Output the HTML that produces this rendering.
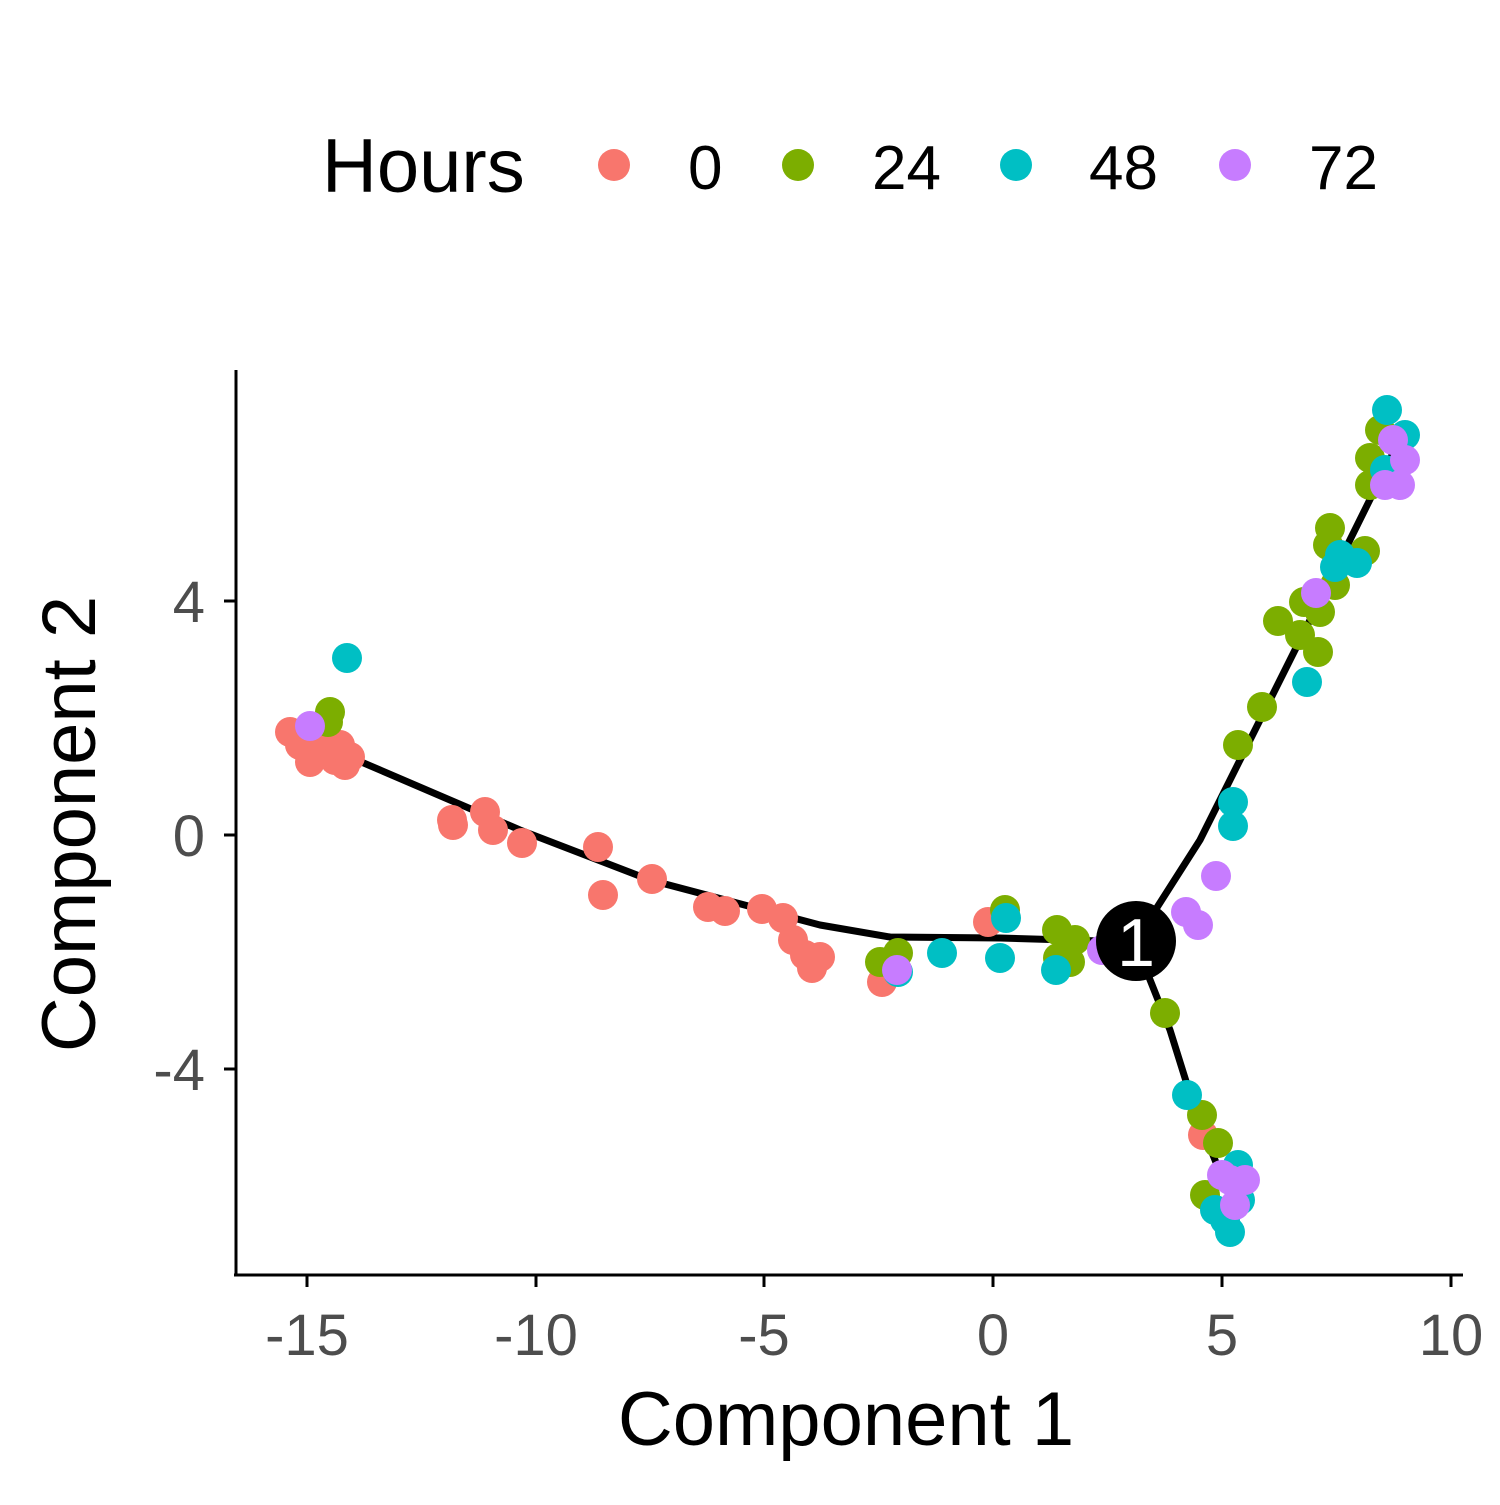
<!DOCTYPE html>
<html><head><style>body{margin:0;background:#fff}</style></head><body>
<svg width="1500" height="1500" xmlns="http://www.w3.org/2000/svg" font-family="Liberation Sans, sans-serif">
<rect width="1500" height="1500" fill="#fff"/>
<text x="322" y="192" font-size="76">Hours</text>
<circle cx="614" cy="165" r="16" fill="#F8766D"/><text x="688" y="189" font-size="62">0</text>
<circle cx="798" cy="165" r="16" fill="#7CAE00"/><text x="872" y="189" font-size="62">24</text>
<circle cx="1016" cy="165" r="16" fill="#00BFC4"/><text x="1089" y="189" font-size="62">48</text>
<circle cx="1235" cy="165" r="16" fill="#C77CFF"/><text x="1309" y="189" font-size="62">72</text>
<g stroke="#000" stroke-width="3" fill="none">
<line x1="236" y1="370" x2="236" y2="1276"/><line x1="234" y1="1275" x2="1463" y2="1275"/>
<line x1="307" y1="1275" x2="307" y2="1287"/><line x1="536" y1="1275" x2="536" y2="1287"/><line x1="764" y1="1275" x2="764" y2="1287"/><line x1="993" y1="1275" x2="993" y2="1287"/><line x1="1222" y1="1275" x2="1222" y2="1287"/><line x1="1451" y1="1275" x2="1451" y2="1287"/>
<line x1="224" y1="601" x2="236" y2="601"/><line x1="224" y1="835" x2="236" y2="835"/><line x1="224" y1="1069" x2="236" y2="1069"/>
</g>
<g font-size="58" fill="#4d4d4d" text-anchor="middle">
<text x="307" y="1355">-15</text><text x="536" y="1355">-10</text><text x="764" y="1355">-5</text><text x="993" y="1355">0</text><text x="1222" y="1355">5</text><text x="1451" y="1355">10</text>
</g>
<g font-size="58" fill="#4d4d4d" text-anchor="end">
<text x="205" y="622">4</text><text x="205" y="856">0</text><text x="205" y="1090">-4</text>
</g>
<text x="846" y="1445" font-size="76" text-anchor="middle">Component 1</text>
<text transform="translate(95,824) rotate(-90)" font-size="76" text-anchor="middle">Component 2</text>
<g stroke="#000" stroke-width="7" fill="none" stroke-linejoin="round">
<polyline points="345,755 520,830 650,880 820,925 890,937 1000,938 1135,942"/>
<polyline points="1135,942 1200,840 1240,760 1300,640 1340,560 1392,455"/>
<polyline points="1135,942 1170,1030 1195,1110 1225,1185"/>
</g>
<g fill="#F8766D">
<circle cx="290" cy="732" r="15"/><circle cx="300" cy="745" r="15"/><circle cx="310" cy="762" r="15"/><circle cx="325" cy="748" r="15"/><circle cx="335" cy="760" r="15"/><circle cx="345" cy="765" r="15"/><circle cx="350" cy="757" r="15"/><circle cx="340" cy="745" r="15"/><circle cx="452" cy="820" r="15"/><circle cx="453" cy="825" r="15"/><circle cx="485" cy="812" r="15"/><circle cx="493" cy="830" r="15"/><circle cx="522" cy="843" r="15"/><circle cx="598" cy="847" r="15"/><circle cx="603" cy="895" r="15"/><circle cx="652" cy="879" r="15"/><circle cx="708" cy="907" r="15"/><circle cx="725" cy="911" r="15"/><circle cx="762" cy="909" r="15"/><circle cx="783" cy="918" r="15"/><circle cx="793" cy="940" r="15"/><circle cx="805" cy="955" r="15"/><circle cx="812" cy="968" r="15"/><circle cx="820" cy="957" r="15"/><circle cx="882" cy="982" r="15"/><circle cx="988" cy="922" r="15"/><circle cx="1203" cy="1135" r="15"/>
</g>
<g fill="#7CAE00">
<circle cx="330" cy="712" r="15"/><circle cx="328" cy="722" r="15"/><circle cx="1005" cy="910" r="15"/><circle cx="1057" cy="930" r="15"/><circle cx="1075" cy="940" r="15"/><circle cx="1058" cy="958" r="15"/><circle cx="1070" cy="962" r="15"/><circle cx="880" cy="962" r="15"/><circle cx="898" cy="953" r="15"/><circle cx="1165" cy="1013" r="15"/><circle cx="1202" cy="1115" r="15"/><circle cx="1218" cy="1143" r="15"/><circle cx="1205" cy="1195" r="15"/><circle cx="1238" cy="745" r="15"/><circle cx="1262" cy="707" r="15"/><circle cx="1278" cy="621" r="15"/><circle cx="1300" cy="635" r="15"/><circle cx="1304" cy="602" r="15"/><circle cx="1318" cy="652" r="15"/><circle cx="1320" cy="612" r="15"/><circle cx="1330" cy="528" r="15"/><circle cx="1328" cy="545" r="15"/><circle cx="1365" cy="551" r="15"/><circle cx="1370" cy="458" r="15"/><circle cx="1380" cy="430" r="15"/><circle cx="1370" cy="485" r="15"/><circle cx="1335" cy="585" r="15"/>
</g>
<g fill="#00BFC4">
<circle cx="347" cy="658" r="15"/><circle cx="942" cy="953" r="15"/><circle cx="1000" cy="958" r="15"/><circle cx="1006" cy="918" r="15"/><circle cx="1056" cy="970" r="15"/><circle cx="898" cy="972" r="15"/><circle cx="1187" cy="1095" r="15"/><circle cx="1233" cy="802" r="15"/><circle cx="1233" cy="826" r="15"/><circle cx="1307" cy="682" r="15"/><circle cx="1340" cy="555" r="15"/><circle cx="1335" cy="567" r="15"/><circle cx="1357" cy="563" r="15"/><circle cx="1387" cy="410" r="15"/><circle cx="1405" cy="435" r="15"/><circle cx="1385" cy="470" r="15"/><circle cx="1238" cy="1165" r="15"/><circle cx="1215" cy="1210" r="15"/><circle cx="1230" cy="1232" r="15"/><circle cx="1240" cy="1200" r="15"/><circle cx="1225" cy="1220" r="15"/>
</g>
<g fill="#C77CFF">
<circle cx="310" cy="726" r="15"/><circle cx="897" cy="970" r="15"/><circle cx="1216" cy="876" r="15"/><circle cx="1186" cy="912" r="15"/><circle cx="1198" cy="925" r="15"/><circle cx="1102" cy="950" r="15"/><circle cx="1316" cy="593" r="15"/><circle cx="1393" cy="440" r="15"/><circle cx="1405" cy="460" r="15"/><circle cx="1385" cy="485" r="15"/><circle cx="1400" cy="485" r="15"/><circle cx="1230" cy="1180" r="15"/><circle cx="1245" cy="1180" r="15"/><circle cx="1235" cy="1205" r="15"/><circle cx="1222" cy="1175" r="15"/>
</g>
<circle cx="1136" cy="941" r="40" fill="#000"/>
<text x="1136" y="966" font-size="68" fill="#fff" text-anchor="middle">1</text>
</svg>
</body></html>
